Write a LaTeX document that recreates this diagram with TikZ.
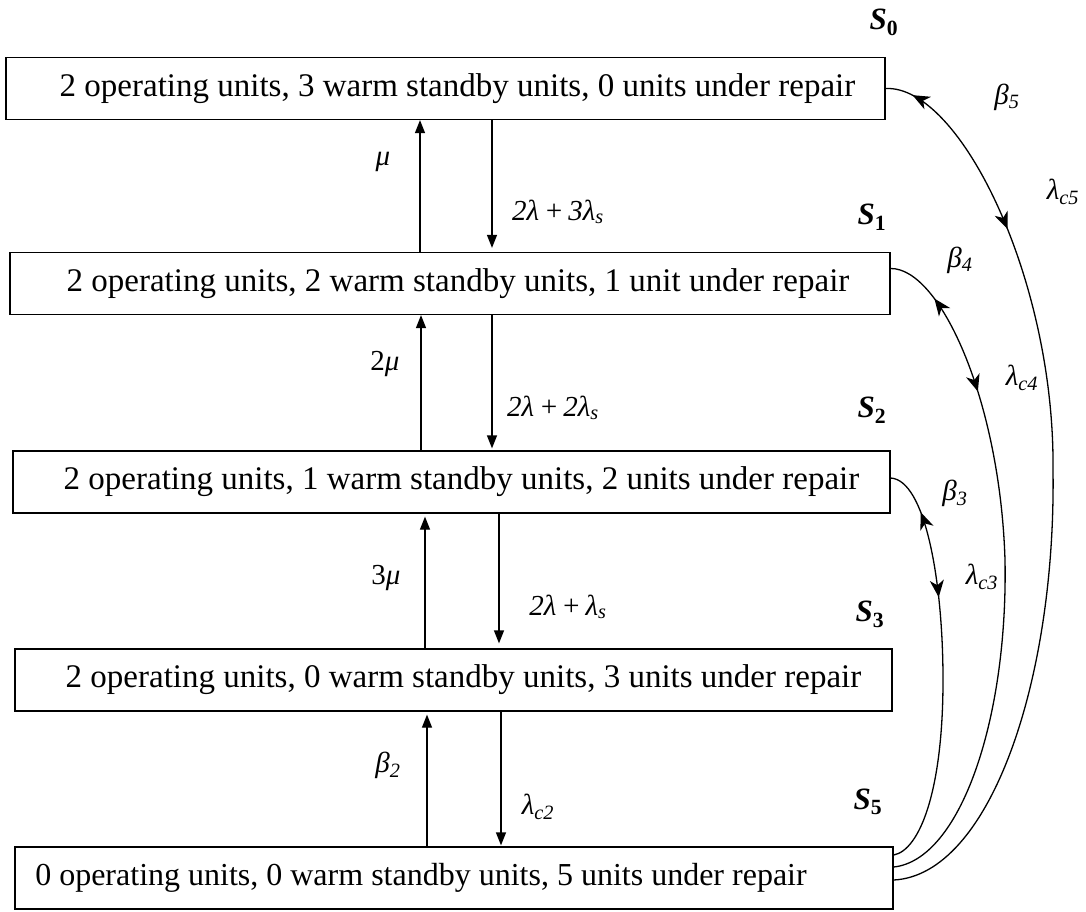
\documentclass[tikz,border=0pt]{standalone}
\usepackage{fontspec}
\setmainfont{Liberation Serif}
\usetikzlibrary{arrows.meta,decorations.markings}
\newcommand{\lsub}[1]{\textsubscript{#1}}
\tikzset{
  box/.style={draw, line width=1.3pt, minimum height=62pt, inner sep=0pt, font=\fontsize{33}{40}\selectfont},
  arr/.style={line width=1.3pt, -{Triangle[width=10pt,length=13pt]}},
  lbl/.style={font=\fontsize{29}{34}\selectfont\itshape, inner sep=0pt},
  slbl/.style={font=\fontsize{31}{36}\selectfont\bfseries\itshape, inner sep=0pt},
  crv/.style={line width=1.3pt},
}
\begin{document}
\begin{tikzpicture}[x=1pt,y=-1pt]
\useasboundingbox (0,0) rectangle (1086,911);
\fill[white] (0,0) rectangle (1086,911);
% boxes
\node[box, minimum width=879pt] (s0) at (445.5,88.5) {\hspace{24pt}2 operating units, 3 warm standby units, 0 units under repair};
\node[box, minimum width=880pt] (s1) at (450,283.5) {\hspace{16pt}2 operating units, 2 warm standby units, 1 unit under repair};
\node[box, minimum width=877pt] (s2) at (451.5,482) {\hspace{20pt}2 operating units, 1 warm standby units, 2 units under repair};
\node[box, minimum width=877pt] (s3) at (453.5,680) {\hspace{20pt}2 operating units, 0 warm standby units, 3 units under repair};
\node[box, minimum width=878pt, font=\fontsize{32}{40}\selectfont] (s5) at (454,878) {0 operating units, 0 warm standby units, 5 units under repair\kern66pt};
% state labels
\node[slbl] (l0) at (884,22) {S\lsub{\upshape 0}};
\node[slbl] (l1) at (872,217) {S\lsub{\upshape 1}};
\node[slbl] (l2) at (872,410) {S\lsub{\upshape 2}};
\node[slbl] (l3) at (870,614) {S\lsub{\upshape 3}};
\node[slbl] (l5) at (868,802) {S\lsub{\upshape 5}};
% vertical arrow columns
\coordinate (u1) at (420,0);
\coordinate (d1) at (492,0);
\coordinate (u2) at (421,0);
\coordinate (d2) at (492,0);
\coordinate (u3) at (425,0);
\coordinate (d3) at (499,0);
\coordinate (u4) at (427,0);
\coordinate (d4) at (501,0);
\draw[arr] (s1.north -| u1) -- (s0.south -| u1);
\draw[arr, shorten >=4pt] (s0.south -| d1) -- (s1.north -| d1);
\draw[arr] (s2.north -| u2) -- (s1.south -| u2);
\draw[arr, shorten >=2pt] (s1.south -| d2) -- (s2.north -| d2);
\draw[arr, shorten >=3pt] (s3.north -| u3) -- (s2.south -| u3);
\draw[arr, shorten >=5pt] (s2.south -| d3) -- (s3.north -| d3);
\draw[arr, shorten >=3pt] (s5.north -| u4) -- (s3.south -| u4);
\draw[arr, shorten >=1pt] (s3.south -| d4) -- (s5.north -| d4);
% rate labels
\node[lbl] (m1) at (383,162) {μ};
\node[lbl] (f1) at (558,212) {2λ\,+\,3λ\lsub{s}};
\node[lbl] (m2) at (385,364) {\upshape 2\itshape μ};
\node[lbl] (f2) at (553,408) {2λ\,+\,2λ\lsub{s}};
\node[lbl] (m3) at (386,578) {\upshape 3\itshape μ};
\node[lbl] (f3) at (568,607) {2λ\,+\,λ\lsub{s}};
\node[lbl] (b2) at (388,765) {β\lsub{2}};
\node[lbl] (c2) at (538,807) {λ\lsub{c2}};
% curved transitions
\coordinate (e5a) at ([yshift=23pt]s5.east);
\coordinate (e5b) at ([yshift=11pt]s5.east);
\coordinate (e5c) at ([yshift=-2pt]s5.east);
\coordinate (k0) at (1053,470);
\coordinate (k1) at (1005,560);
\coordinate (k2) at (943,680);
\draw[crv, postaction={decorate}, decoration={markings,
    mark=at position 28pt with {\arrowreversed{Stealth[width=14pt,length=17pt,inset=5pt]}},
    mark=at position 195pt with {\arrow{Stealth[width=14pt,length=17pt,inset=5pt]}}}]
  (s0.east) .. controls (960,85) and (1055,280) .. (k0) .. controls (1056,680) and (990,875) .. (e5c);
\draw[crv, postaction={decorate}, decoration={markings,
    mark=at position 55pt with {\arrowreversed{Stealth[width=14pt,length=17pt,inset=5pt]}},
    mark=at position 158pt with {\arrow{Stealth[width=14pt,length=17pt,inset=5pt]}}}]
  ([yshift=15pt]s1.east) .. controls (940,268) and (1000,400) .. (k1) .. controls (1008,720) and (960,860) .. (e5b);
\draw[crv, postaction={decorate}, decoration={markings,
    mark=at position 48pt with {\arrowreversed{Stealth[width=14pt,length=17pt,inset=5pt]}},
    mark=at position 135pt with {\arrow{Stealth[width=14pt,length=17pt,inset=5pt]}}}]
  ([yshift=4pt]s2.east) .. controls (925,480) and (943,580) .. (k2) .. controls (943,790) and (920,850) .. (e5a);
% curve labels
\node[lbl] (b5) at (1007,97) {β\lsub{5}};
\node[lbl] (c5) at (1063,192) {λ\lsub{c5}};
\node[lbl] (b4) at (960,260) {β\lsub{4}};
\node[lbl] (c4) at (1022,378) {λ\lsub{c4}};
\node[lbl] (b3) at (955,493) {β\lsub{3}};
\node[lbl] (c3) at (982,577) {λ\lsub{c3}};
\end{tikzpicture}
\end{document}
